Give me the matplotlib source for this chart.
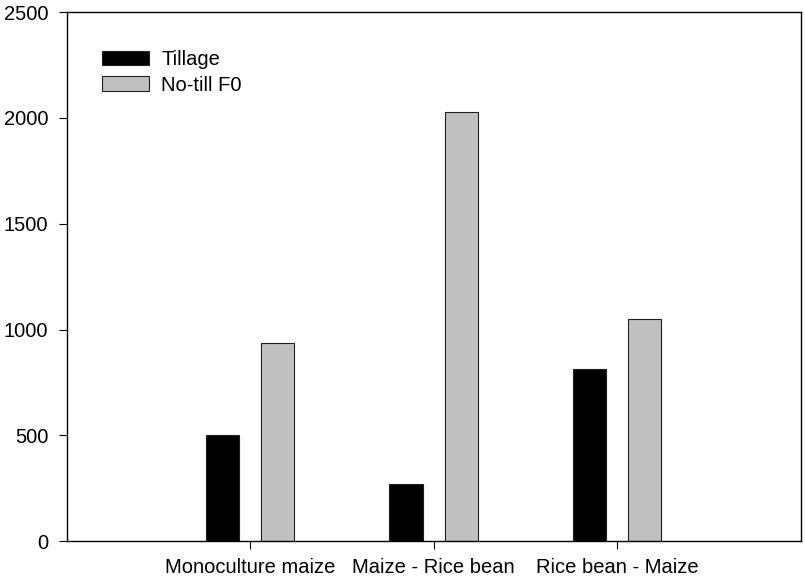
import matplotlib
matplotlib.use("Agg")
import matplotlib.pyplot as plt
import numpy as np

# Data
categories = ["Monoculture maize", "Maize - Rice bean", "Rice bean - Maize"]
tillage = [503, 273, 812]
no_till_f0 = [935, 2028, 1051]

plt.rcParams["font.family"] = ["Liberation Sans", "DejaVu Sans"]
plt.rcParams["font.size"] = 14.5

fig = plt.figure(figsize=(8.05, 5.79), dpi=100)
ax = fig.add_axes([66.7 / 805, 1 - 541.3 / 579, 734 / 805, 529.3 / 579])

x = np.arange(1, len(categories) + 1)
offset = 0.15
width = 0.182
ax.bar(x - offset, tillage, width, color="black", edgecolor="#202020", linewidth=0.8, label="Tillage")
ax.bar(x + offset, no_till_f0, width, color="#c0c0c0", edgecolor="#202020", linewidth=0.8, label="No-till F0")

ax.set_xlim(0, 4)
ax.set_ylim(0, 2500)
ax.set_xticks(x)
ax.set_xticklabels(categories)
ax.set_yticks([0, 500, 1000, 1500, 2000, 2500])

for s in ax.spines.values():
    s.set_linewidth(1.0)
ax.tick_params(direction="out", length=5.8, width=0.8, labelsize=14.5)
ax.tick_params(axis="x", pad=6.5)
ax.tick_params(axis="y", pad=7.5)

ax.legend(loc="upper left", bbox_to_anchor=(0.0477, 0.928), frameon=False,
          borderpad=0, borderaxespad=0, handlelength=2.35, handleheight=0.75,
          handletextpad=0.6, labelspacing=0.32, fontsize=14.5)

fig.savefig("out.png", dpi=100)
